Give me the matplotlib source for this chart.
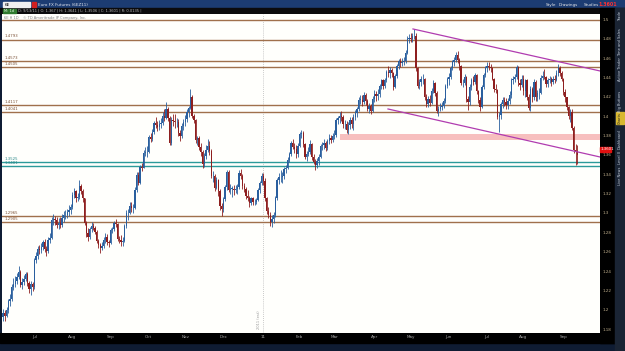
import matplotlib
matplotlib.use("Agg")
import matplotlib.pyplot as plt
from matplotlib.patches import Rectangle
import pandas as pd

W, H = 625, 351

# daily bars, Euro FX futures, from 2010-06-07 (one line per month)
first_open = 1.1930
closes = [
    1.1965, 1.1940, 1.1995, 1.2090, 1.2110, 1.2240, 1.2265, 1.2300, 1.2340, 1.2390, 1.2260, 1.2285, 1.2320, 1.2370, 1.2275, 1.2215, 1.2265, 1.2235,  # jun
    1.2510, 1.2560, 1.2630, 1.2620, 1.2650, 1.2700, 1.2630, 1.2610, 1.2720, 1.2740, 1.2930, 1.2940, 1.2930, 1.2880, 1.2900, 1.2880, 1.2950, 1.2980, 1.2980, 1.3010, 1.3030, 1.3060,  # jul
    1.3190, 1.3230, 1.3150, 1.3170, 1.3280, 1.3230, 1.3150, 1.2900, 1.2790, 1.2750, 1.2830, 1.2870, 1.2850, 1.2800, 1.2710, 1.2670, 1.2640, 1.2660, 1.2720, 1.2750, 1.2700, 1.2690,  # aug
    1.2820, 1.2830, 1.2900, 1.2890, 1.2730, 1.2720, 1.2700, 1.2710, 1.2870, 1.3000, 1.3000, 1.3070, 1.3050, 1.3050, 1.3240, 1.3390, 1.3310, 1.3480, 1.3470, 1.3620, 1.3630, 1.3630,  # sep
    1.3790, 1.3770, 1.3840, 1.3930, 1.3910, 1.3890, 1.3920, 1.3930, 1.4000, 1.3980, 1.4070, 1.3980, 1.3720, 1.3960, 1.3950, 1.3940, 1.3940, 1.3830, 1.3800, 1.3900, 1.3940,  # oct
    1.3970, 1.4040, 1.4090, 1.4200, 1.4000, 1.3960, 1.3750, 1.3780, 1.3680, 1.3630, 1.3510, 1.3590, 1.3650, 1.3690, 1.3640, 1.3380, 1.3380, 1.3260, 1.3340, 1.3230, 1.3070, 1.3040,  # nov
    1.3140, 1.3270, 1.3420, 1.3240, 1.3250, 1.3250, 1.3240, 1.3250, 1.3270, 1.3410, 1.3380, 1.3280, 1.3250, 1.3180, 1.3160, 1.3100, 1.3150, 1.3110, 1.3110, 1.3130, 1.3240, 1.3310, 1.3380,  # dec
    1.3330, 1.3150, 1.3020, 1.2980, 1.2910, 1.2940, 1.2980, 1.3160, 1.3340, 1.3370, 1.3370, 1.3380, 1.3450, 1.3470, 1.3550, 1.3610, 1.3720, 1.3680, 1.3660, 1.3610, 1.3690,  # jan
    1.3820, 1.3830, 1.3710, 1.3580, 1.3610, 1.3630, 1.3710, 1.3580, 1.3530, 1.3500, 1.3540, 1.3580, 1.3690, 1.3700, 1.3720, 1.3670, 1.3740, 1.3780, 1.3750, 1.3800,  # feb
    1.3810, 1.3960, 1.3980, 1.4000, 1.3990, 1.3920, 1.3920, 1.3860, 1.3910, 1.3960, 1.3920, 1.3990, 1.4030, 1.4070, 1.4170, 1.4170, 1.4150, 1.4220, 1.4160, 1.4080, 1.4110, 1.4050, 1.4180,  # mar
    1.4230, 1.4210, 1.4230, 1.4310, 1.4370, 1.4310, 1.4370, 1.4460, 1.4450, 1.4480, 1.4450, 1.4300, 1.4420, 1.4520, 1.4570, 1.4550, 1.4560, 1.4570, 1.4650, 1.4800, 1.4810,  # apr
    1.4800, 1.4830, 1.4830, 1.4500, 1.4310, 1.4350, 1.4380, 1.4380, 1.4200, 1.4130, 1.4180, 1.4140, 1.4260, 1.4340, 1.4240, 1.4050, 1.4080, 1.4100, 1.4110, 1.4160, 1.4310, 1.4380,  # may
    1.4410, 1.4500, 1.4560, 1.4580, 1.4630, 1.4580, 1.4520, 1.4340, 1.4340, 1.4410, 1.4180, 1.4150, 1.4300, 1.4370, 1.4350, 1.4430, 1.4260, 1.4170, 1.4100, 1.4300, 1.4430, 1.4500,  # jun
    1.4520, 1.4510, 1.4500, 1.4390, 1.4280, 1.4270, 1.3990, 1.4010, 1.4130, 1.4170, 1.4150, 1.4120, 1.4160, 1.4220, 1.4370, 1.4390, 1.4410, 1.4510, 1.4340, 1.4320, 1.4390,  # jul
    1.4260, 1.4370, 1.4200, 1.4090, 1.4280, 1.4200, 1.4350, 1.4200, 1.4240, 1.4240, 1.4400, 1.4420, 1.4410, 1.4330, 1.4370, 1.4390, 1.4350, 1.4390, 1.4370, 1.4450, 1.4500, 1.4450, 1.4380,  # aug
    1.4250, 1.4200, 1.4100, 1.4000, 1.4040, 1.3880, 1.3650, 1.3640, 1.3601,  # sep
]
highs = [
    1.2010, 1.2000, 1.2030, 1.2110, 1.2160, 1.2270, 1.2330, 1.2350, 1.2380, 1.2450, 1.2410, 1.2330, 1.2360, 1.2390, 1.2390, 1.2300, 1.2300, 1.2290,
    1.2530, 1.2600, 1.2660, 1.2670, 1.2690, 1.2720, 1.2730, 1.2660, 1.2750, 1.2790, 1.2960, 1.2990, 1.2970, 1.2960, 1.2950, 1.2960, 1.2990, 1.3020, 1.3030, 1.3040, 1.3080, 1.3090,
    1.3220, 1.3260, 1.3240, 1.3210, 1.3340, 1.3300, 1.3250, 1.3160, 1.2920, 1.2840, 1.2860, 1.2910, 1.2900, 1.2870, 1.2820, 1.2730, 1.2690, 1.2700, 1.2750, 1.2790, 1.2780, 1.2720,
    1.2850, 1.2860, 1.2920, 1.2940, 1.2900, 1.2760, 1.2770, 1.2750, 1.2890, 1.3030, 1.3040, 1.3110, 1.3110, 1.3090, 1.3270, 1.3420, 1.3420, 1.3500, 1.3520, 1.3650, 1.3680, 1.3690,
    1.3810, 1.3830, 1.3870, 1.3950, 1.3990, 1.3950, 1.3960, 1.3980, 1.4040, 1.4070, 1.4150, 1.4100, 1.4000, 1.3990, 1.4020, 1.4020, 1.3980, 1.3970, 1.3860, 1.3930, 1.3970,
    1.4010, 1.4070, 1.4110, 1.4280, 1.4220, 1.4020, 1.3970, 1.3800, 1.3800, 1.3720, 1.3650, 1.3620, 1.3700, 1.3760, 1.3740, 1.3660, 1.3430, 1.3400, 1.3370, 1.3350, 1.3250, 1.3100,
    1.3170, 1.3290, 1.3440, 1.3440, 1.3300, 1.3280, 1.3290, 1.3290, 1.3300, 1.3440, 1.3450, 1.3400, 1.3310, 1.3270, 1.3240, 1.3180, 1.3170, 1.3170, 1.3140, 1.3160, 1.3260, 1.3330, 1.3410,
    1.3410, 1.3360, 1.3170, 1.3060, 1.3010, 1.2980, 1.3010, 1.3180, 1.3360, 1.3410, 1.3440, 1.3420, 1.3480, 1.3500, 1.3580, 1.3630, 1.3740, 1.3760, 1.3720, 1.3700, 1.3720,
    1.3840, 1.3860, 1.3850, 1.3720, 1.3640, 1.3680, 1.3750, 1.3720, 1.3610, 1.3560, 1.3570, 1.3610, 1.3710, 1.3730, 1.3760, 1.3740, 1.3770, 1.3820, 1.3810, 1.3830,
    1.3860, 1.3980, 1.4000, 1.4040, 1.4050, 1.4010, 1.3960, 1.3950, 1.3940, 1.3990, 1.3990, 1.4020, 1.4060, 1.4100, 1.4200, 1.4220, 1.4220, 1.4250, 1.4240, 1.4180, 1.4140, 1.4130, 1.4210,
    1.4270, 1.4260, 1.4280, 1.4330, 1.4390, 1.4380, 1.4400, 1.4480, 1.4520, 1.4510, 1.4500, 1.4460, 1.4440, 1.4540, 1.4590, 1.4600, 1.4600, 1.4610, 1.4680, 1.4830, 1.4850,
    1.4860, 1.4860, 1.4900, 1.4860, 1.4510, 1.4390, 1.4420, 1.4440, 1.4400, 1.4230, 1.4210, 1.4220, 1.4290, 1.4370, 1.4350, 1.4260, 1.4110, 1.4140, 1.4150, 1.4190, 1.4330, 1.4410,
    1.4450, 1.4520, 1.4580, 1.4610, 1.4660, 1.4670, 1.4600, 1.4530, 1.4390, 1.4440, 1.4420, 1.4210, 1.4330, 1.4400, 1.4420, 1.4450, 1.4440, 1.4270, 1.4200, 1.4320, 1.4450, 1.4520,
    1.4560, 1.4560, 1.4540, 1.4510, 1.4400, 1.4330, 1.4280, 1.4040, 1.4150, 1.4200, 1.4200, 1.4190, 1.4190, 1.4260, 1.4400, 1.4420, 1.4440, 1.4530, 1.4520, 1.4380, 1.4430,
    1.4430, 1.4390, 1.4380, 1.4230, 1.4310, 1.4300, 1.4380, 1.4370, 1.4270, 1.4290, 1.4430, 1.4470, 1.4490, 1.4420, 1.4400, 1.4420, 1.4410, 1.4420, 1.4430, 1.4480, 1.4540, 1.4520, 1.4470,
    1.4400, 1.4280, 1.4200, 1.4110, 1.4070, 1.4080, 1.3900, 1.3710, 1.3700,
]
lows = [
    1.1880, 1.1880, 1.1920, 1.1970, 1.2040, 1.2090, 1.2200, 1.2240, 1.2270, 1.2320, 1.2230, 1.2210, 1.2260, 1.2300, 1.2250, 1.2170, 1.2150, 1.2190,
    1.2210, 1.2480, 1.2520, 1.2580, 1.2590, 1.2620, 1.2600, 1.2560, 1.2590, 1.2690, 1.2730, 1.2880, 1.2880, 1.2840, 1.2830, 1.2840, 1.2860, 1.2910, 1.2940, 1.2950, 1.2970, 1.2990,
    1.3040, 1.3160, 1.3110, 1.3120, 1.3140, 1.3200, 1.3110, 1.2880, 1.2750, 1.2710, 1.2730, 1.2800, 1.2820, 1.2780, 1.2690, 1.2640, 1.2590, 1.2620, 1.2640, 1.2690, 1.2670, 1.2650,
    1.2680, 1.2790, 1.2810, 1.2860, 1.2710, 1.2690, 1.2660, 1.2660, 1.2700, 1.2850, 1.2930, 1.2990, 1.3010, 1.3000, 1.3040, 1.3220, 1.3290, 1.3300, 1.3430, 1.3460, 1.3590, 1.3580,
    1.3620, 1.3730, 1.3740, 1.3820, 1.3880, 1.3850, 1.3860, 1.3880, 1.3910, 1.3950, 1.3970, 1.3950, 1.3700, 1.3700, 1.3900, 1.3880, 1.3890, 1.3800, 1.3740, 1.3780, 1.3860,
    1.3900, 1.3940, 1.3990, 1.4070, 1.3980, 1.3930, 1.3720, 1.3700, 1.3650, 1.3590, 1.3470, 1.3480, 1.3560, 1.3630, 1.3600, 1.3360, 1.3320, 1.3230, 1.3250, 1.3180, 1.3030, 1.2970,
    1.3010, 1.3120, 1.3240, 1.3220, 1.3200, 1.3170, 1.3190, 1.3210, 1.3200, 1.3250, 1.3350, 1.3250, 1.3220, 1.3140, 1.3120, 1.3060, 1.3080, 1.3080, 1.3080, 1.3090, 1.3120, 1.3210, 1.3290,
    1.3290, 1.3120, 1.2990, 1.2950, 1.2870, 1.2860, 1.2900, 1.2960, 1.3130, 1.3300, 1.3320, 1.3310, 1.3350, 1.3410, 1.3450, 1.3530, 1.3590, 1.3660, 1.3620, 1.3570, 1.3580,
    1.3680, 1.3780, 1.3680, 1.3560, 1.3540, 1.3590, 1.3610, 1.3550, 1.3510, 1.3440, 1.3460, 1.3500, 1.3570, 1.3650, 1.3660, 1.3640, 1.3650, 1.3710, 1.3720, 1.3730,
    1.3760, 1.3790, 1.3920, 1.3930, 1.3950, 1.3880, 1.3870, 1.3830, 1.3820, 1.3870, 1.3880, 1.3860, 1.3960, 1.3990, 1.4050, 1.4130, 1.4110, 1.4130, 1.4120, 1.4050, 1.4030, 1.4020, 1.4040,
    1.4150, 1.4160, 1.4170, 1.4200, 1.4280, 1.4280, 1.4290, 1.4350, 1.4410, 1.4400, 1.4410, 1.4270, 1.4290, 1.4400, 1.4490, 1.4510, 1.4520, 1.4530, 1.4550, 1.4640, 1.4760,
    1.4770, 1.4770, 1.4800, 1.4470, 1.4290, 1.4280, 1.4310, 1.4330, 1.4170, 1.4100, 1.4100, 1.4110, 1.4130, 1.4240, 1.4210, 1.4030, 1.4000, 1.4050, 1.4060, 1.4090, 1.4140, 1.4290,
    1.4320, 1.4390, 1.4480, 1.4520, 1.4560, 1.4550, 1.4480, 1.4320, 1.4300, 1.4320, 1.4150, 1.4060, 1.4120, 1.4270, 1.4320, 1.4330, 1.4230, 1.4140, 1.4050, 1.4090, 1.4280, 1.4410,
    1.4460, 1.4480, 1.4460, 1.4370, 1.4250, 1.4240, 1.3970, 1.3840, 1.3970, 1.4090, 1.4110, 1.4070, 1.4080, 1.4130, 1.4190, 1.4330, 1.4350, 1.4380, 1.4310, 1.4270, 1.4300,
    1.4220, 1.4200, 1.4170, 1.4060, 1.4050, 1.4150, 1.4170, 1.4160, 1.4160, 1.4180, 1.4230, 1.4370, 1.4380, 1.4300, 1.4300, 1.4340, 1.4310, 1.4330, 1.4340, 1.4360, 1.4420, 1.4420, 1.4360,
    1.4220, 1.4150, 1.4060, 1.3970, 1.3940, 1.3860, 1.3620, 1.3500, 1.3506,
]

# horizontal levels drawn on the chart
brown_levels = [1.4990, 1.4793, 1.4573, 1.4505, 1.4117, 1.4041, 1.2965, 1.2905]
brown_labels = ["", "1.4793", "1.4573", "1.4505", "1.4117", "1.4041", "1.2965", "1.2905"]
teal_levels = [1.3525, 1.3481]
teal_labels = ["1.3525", "1.3481"]

# pink zone and the falling channel (bar index, price)
zone_start, zone_low, zone_high = 194, 1.3752, 1.3815
chan_upper = [(236.3, 1.4902), (344.1, 1.4468)]
chan_lower = [(221.9, 1.4075), (344.1, 1.3579)]

y_ticks = [1.18, 1.20, 1.22, 1.24, 1.26, 1.28, 1.30, 1.32, 1.34, 1.36, 1.38,
           1.40, 1.42, 1.44, 1.46, 1.48, 1.50]
last_price = "1.3601"
side_tabs = ["Trade", "Time and Sales", "Active Trader", "Big Buttons",
             "Charts", "Dashboard", "Level II", "Live News"]


def fx(x):
    return x / W


def fy(y):
    return 1 - y / H


def box(fig, x0, y0, x1, y1, color, z=-1):
    fig.patches.append(Rectangle((fx(x0), fy(y1)), (x1 - x0) / W, (y1 - y0) / H,
                                 transform=fig.transFigure, color=color, zorder=z))


fig = plt.figure(figsize=(W / 100, H / 100), dpi=100)
fig.patch.set_facecolor("#0f1c33")

# window chrome
box(fig, 0, 0, W, 8, "#1c3c72")
box(fig, 0, 8, W, 14, "#0b0b0d")
box(fig, 600, 8, 615, 343, "#000000")
box(fig, 0, 333, 615, 343, "#000000")
box(fig, 615, 8, W, H, "#1a2434")

box(fig, 3, 2, 30, 7, "#f0f0f0", z=1)
fig.text(fx(5), fy(4.6), "6E", fontsize=3, color="#000000", va="center")
box(fig, 32, 2, 36, 7, "#d21f1f", z=1)
fig.text(fx(38), fy(4.6), "Euro FX Futures (6EZ11)", fontsize=3, color="#e0e4ee", va="center")
for x, s in [(546, "Style"), (559, "Drawings"), (584, "Studies")]:
    fig.text(fx(x), fy(4.6), s, fontsize=3, color="#e6e6e6", va="center")
fig.text(fx(598), fy(4.6), last_price, fontsize=3.4, color="#ff3030", va="center",
         fontweight="bold")
box(fig, 3, 9, 16, 13, "#2f7a2f", z=1)
fig.text(fx(4), fy(11), "M: 1d", fontsize=2.6, color="#e8ffe8", va="center")
fig.text(fx(18), fy(11),
         "D: 9/13/11 | O: 1.367 | H: 1.3641 | L: 1.3506 | C: 1.3601 | R: 0.0135 |",
         fontsize=2.6, color="#b8b8b8", va="center")

# main price panel
ax = fig.add_axes([fx(2), fy(333), (600 - 2) / W, (333 - 14) / H])
ax.set_facecolor("#fffffc")
for s in ax.spines.values():
    s.set_visible(False)

n = min(len(closes), len(highs), len(lows))
opens = [first_open] + closes[:n - 1]
xs = list(range(n))
ups = [closes[i] >= opens[i] for i in xs]
colors = ["#2a5f9e" if u else "#8e1f1f" for u in ups]
ax.vlines(xs, lows[:n], highs[:n], colors=colors, linewidth=0.6, zorder=3)
bottoms = [min(opens[i], closes[i]) for i in xs]
heights = [max(abs(closes[i] - opens[i]), 0.0004) for i in xs]
ax.bar(xs, heights, bottom=bottoms, width=0.75, color=colors, linewidth=0, zorder=4)

x_left, x_right = -0.6, 344.1
y_bot, y_top = 1.17597, 1.50568
ax.set_xlim(x_left, x_right)
ax.set_ylim(y_bot, y_top)

for lv, lb in zip(brown_levels, brown_labels):
    ax.axhline(lv, color="#a0704c", linewidth=1.0, zorder=2)
    if lb:
        ax.text(0.004, lv + 0.0012, lb, transform=ax.get_yaxis_transform(),
                fontsize=2.8, color="#7a5035", va="bottom")
for lv, lb in zip(teal_levels, teal_labels):
    ax.axhline(lv, color="#2c9a9a", linewidth=1.0, zorder=2)
    ax.text(0.004, lv + 0.0012, lb, transform=ax.get_yaxis_transform(),
            fontsize=2.8, color="#2c8a8a", va="bottom")

ax.fill_between([zone_start, x_right], zone_low, zone_high, color="#f6b4b4",
                alpha=0.85, linewidth=0, zorder=1)
for seg in (chan_upper, chan_lower):
    ax.plot([p[0] for p in seg], [p[1] for p in seg], color="#b03cb0",
            linewidth=0.9, zorder=5)

dates = pd.bdate_range("2010-06-07", periods=n)
month_pos, month_lab = [], []
for i in range(1, n):
    if dates[i].month != dates[i - 1].month:
        month_pos.append(i)
        month_lab.append(dates[i].strftime("%y") if dates[i].month == 1 else dates[i].strftime("%b"))
year_pos = month_pos[month_lab.index("11")]
ax.axvline(year_pos, color="#b8b8b8", linewidth=0.6, linestyle=(0, (1, 1.5)), zorder=1)
ax.text(year_pos - 1.2, y_bot + 0.004, "2011 (est)", rotation=90, fontsize=2.6,
        color="#9a9a9a", ha="right", va="bottom")

ax.set_xticks(month_pos)
ax.set_xticklabels(month_lab)
ax.tick_params(axis="x", length=0, pad=1.5, labelsize=3, colors="#a8a8a8")
ax.yaxis.tick_right()
ax.set_yticks(y_ticks)
ax.set_yticklabels([f"{v:.2f}".rstrip("0").rstrip(".") for v in y_ticks])
ax.tick_params(axis="y", length=0, pad=2, labelsize=3, colors="#bfae8c")

ax.text(0.004, 0.995, "6E H 1D    \u00a9 TD Ameritrade IP Company, Inc.",
        transform=ax.transAxes, fontsize=2.6, color="#808080", va="top")

# last price flag on the price axis
box(fig, 600, 147, 611, 152, "#e01010", z=1)
fig.text(fx(601), fy(149.5), last_price, fontsize=2.8, color="#ffffff", va="center")

# side panel tabs
tab_y = [16, 42, 69, 101, 118, 139, 158, 176]
for t, y in zip(side_tabs, tab_y):
    if t == "Charts":
        box(fig, 616, 112, 624, 124, "#d8b830", z=1)
    fig.text(fx(620), fy(y), t, rotation=90, fontsize=2.6,
             color="#202020" if t == "Charts" else "#c8d0dc", ha="center", va="center")

fig.savefig("out.png", dpi=100, facecolor=fig.get_facecolor())
